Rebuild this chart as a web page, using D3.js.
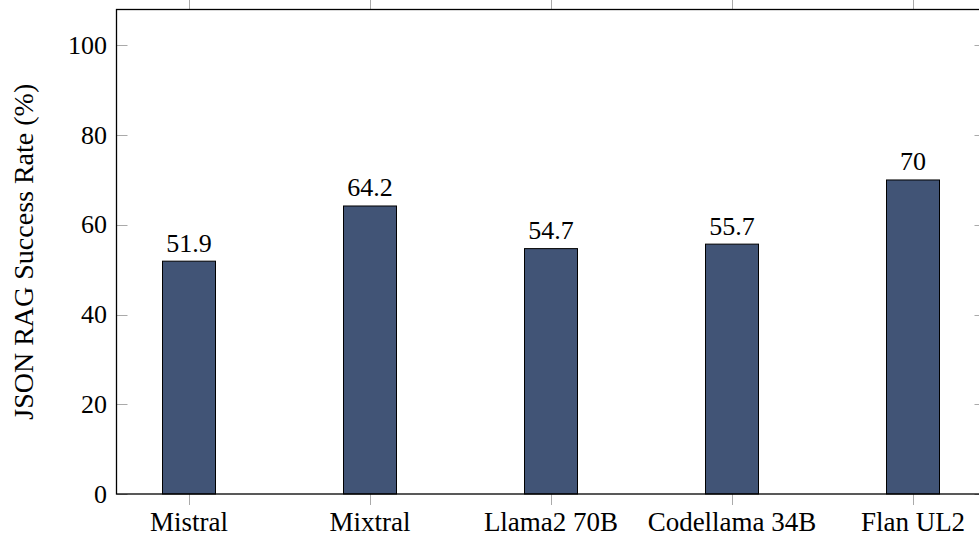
<!DOCTYPE html>
<html><head><meta charset="utf-8">
<script src="https://cdn.jsdelivr.net/npm/d3@7"></script>
<style>body{margin:0;background:#fff}svg{display:block}</style>
</head><body><svg id="c" width="979" height="535"></svg>
<script>
const categories = ["Mistral","Mixtral","Llama2 70B","Codellama 34B","Flan UL2"];
const values = [51.9,64.2,54.7,55.7,70];
const yTicks = [0,20,40,60,80,100];
const yLabel = "JSON RAG Success Rate (%)";

const FF = "'Liberation Serif', 'Times New Roman', serif";
const svg = d3.select("#c").attr("font-family", FF);
const L = 116.5, R = 985.5, T = 9.5, B = 494;
const x = d3.scalePoint().domain(categories).range([189, 913]);
const y = d3.scaleLinear().domain([0,108]).range([B, T]);
const bw = 53, fs = 26, tickCol = "#aaaaaa", tl = 11;

const g = svg.append("g");
categories.forEach(c => {
  const xx = Math.round(x(c)) + 0.5;
  g.append("line").attr("x1",xx).attr("x2",xx).attr("y1",B).attr("y2",B+tl).attr("stroke",tickCol);
  g.append("line").attr("x1",xx).attr("x2",xx).attr("y1",T).attr("y2",T-tl).attr("stroke",tickCol);
});
yTicks.forEach(t => {
  const yy = Math.round(y(t)) + 0.5;
  g.append("line").attr("x1",L).attr("x2",L+tl).attr("y1",yy).attr("y2",yy).attr("stroke",tickCol);
  g.append("line").attr("x1",R).attr("x2",R-tl).attr("y1",yy).attr("y2",yy).attr("stroke",tickCol);
  svg.append("text").attr("x",107).attr("y",y(t)).attr("dy","0.33em").attr("text-anchor","end")
    .attr("font-family",FF).attr("font-size",fs).text(t);
});

svg.selectAll("rect.bar").data(values).enter().append("rect").attr("class","bar")
  .attr("x",(d,i)=>x(categories[i])-bw/2).attr("width",bw)
  .attr("y",d=>y(d)).attr("height",d=>B-y(d))
  .attr("fill","#415476").attr("stroke","#000").attr("stroke-width",1);

svg.selectAll("text.val").data(values).enter().append("text").attr("class","val")
  .attr("x",(d,i)=>x(categories[i])).attr("y",d=>y(d)-9.5)
  .attr("text-anchor","middle").attr("font-family",FF).attr("font-size",fs).text(d=>d);

svg.append("rect").attr("x",L).attr("y",T).attr("width",R-L).attr("height",B-T)
  .attr("fill","none").attr("stroke","#000").attr("stroke-width",1.3);

categories.forEach(c => {
  svg.append("text").attr("x",x(c)).attr("y",530.5).attr("text-anchor","middle")
    .attr("font-family",FF).attr("font-size",27).text(c);
});

svg.append("text").attr("transform",`translate(33,${(T+B)/2}) rotate(-90)`)
  .attr("text-anchor","middle").attr("font-family",FF).attr("font-size",28).text(yLabel);
</script></body></html>
